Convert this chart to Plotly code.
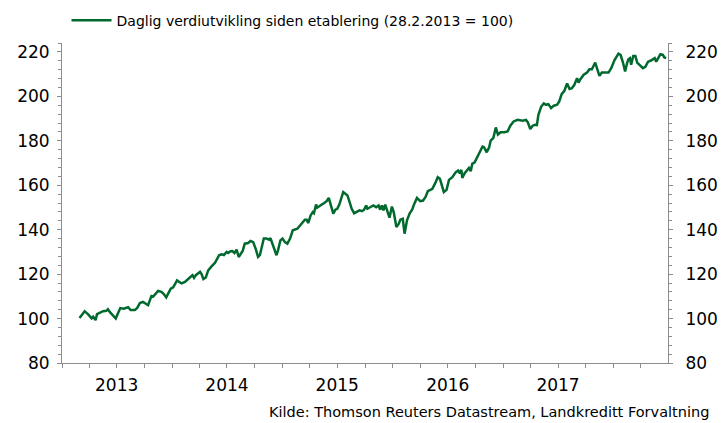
import plotly.graph_objects as go

# --- data ---
dates = [
    "2013-02-28", "2013-03-17", "2013-03-28", "2013-04-09", "2013-04-14", "2013-04-22", "2013-04-27",
    "2013-05-17", "2013-05-28", "2013-06-02", "2013-06-08", "2013-06-19", "2013-06-28", "2013-07-05",
    "2013-07-13", "2013-07-24", "2013-07-31", "2013-08-08", "2013-08-16", "2013-08-30", "2013-09-07",
    "2013-09-16", "2013-09-26", "2013-10-05", "2013-10-13", "2013-10-24", "2013-10-29", "2013-11-06",
    "2013-11-15", "2013-11-26", "2013-12-04", "2013-12-12", "2013-12-20", "2013-12-27", "2014-01-04",
    "2014-01-10", "2014-01-17", "2014-01-24", "2014-02-01", "2014-02-12", "2014-02-23", "2014-03-03",
    "2014-03-09", "2014-03-14", "2014-03-20", "2014-03-28", "2014-04-03", "2014-04-08", "2014-04-14",
    "2014-04-22", "2014-04-30", "2014-05-11", "2014-05-22", "2014-05-30", "2014-06-05", "2014-06-13",
    "2014-06-21", "2014-06-30", "2014-07-05", "2014-07-13", "2014-07-19", "2014-07-26", "2014-08-02",
    "2014-08-09", "2014-08-15", "2014-08-22", "2014-08-29", "2014-09-09", "2014-09-17", "2014-09-26",
    "2014-10-05", "2014-10-12", "2014-10-18", "2014-10-24", "2014-10-31", "2014-11-09", "2014-11-18",
    "2014-11-22", "2014-11-29", "2014-12-06", "2014-12-12", "2014-12-17", "2014-12-25", "2015-01-01",
    "2015-01-09", "2015-01-17", "2015-01-26", "2015-02-04", "2015-02-11", "2015-02-19", "2015-02-28",
    "2015-03-08", "2015-03-16", "2015-03-22", "2015-03-27", "2015-04-04", "2015-04-11", "2015-04-15",
    "2015-04-22", "2015-04-26", "2015-05-03", "2015-05-11", "2015-05-18", "2015-05-27", "2015-06-03",
    "2015-06-10", "2015-06-18", "2015-06-25", "2015-07-01", "2015-07-08", "2015-07-16", "2015-07-21",
    "2015-07-28", "2015-08-04", "2015-08-10", "2015-08-18", "2015-08-26", "2015-09-04", "2015-09-13",
    "2015-09-21", "2015-09-28", "2015-10-05", "2015-10-09", "2015-10-18", "2015-10-29", "2015-11-07",
    "2015-11-15", "2015-11-20", "2015-11-26", "2015-12-01", "2015-12-07", "2015-12-15", "2015-12-21",
    "2015-12-29", "2016-01-04", "2016-01-13", "2016-01-21", "2016-01-26", "2016-02-03", "2016-02-09",
    "2016-02-17", "2016-02-26", "2016-03-05", "2016-03-12", "2016-03-21", "2016-03-30", "2016-04-01",
    "2016-04-10", "2016-04-18", "2016-04-26", "2016-05-11", "2016-05-22", "2016-05-29", "2016-06-05",
    "2016-06-13", "2016-06-18", "2016-06-27", "2016-07-05", "2016-07-16", "2016-07-27", "2016-08-04",
    "2016-08-10", "2016-08-15", "2016-08-18", "2016-08-26", "2016-09-04", "2016-09-09", "2016-09-15",
    "2016-09-20", "2016-09-28", "2016-10-07", "2016-10-16", "2016-10-24", "2016-10-29", "2016-11-07",
    "2016-11-15", "2016-11-20", "2016-11-29", "2016-12-07", "2016-12-14", "2016-12-23", "2017-01-04",
    "2017-01-15", "2017-01-24", "2017-02-04", "2017-02-17", "2017-03-06", "2017-03-17", "2017-03-23",
    "2017-03-31", "2017-04-08", "2017-04-16", "2017-04-22", "2017-04-27", "2017-05-06", "2017-05-15",
    "2017-05-22", "2017-05-30", "2017-06-08", "2017-06-17", "2017-06-28", "2017-07-05", "2017-07-13",
    "2017-07-22", "2017-07-31", "2017-08-08", "2017-08-16", "2017-08-24", "2017-09-02", "2017-09-07",
    "2017-09-13", "2017-09-24", "2017-10-05", "2017-10-13", "2017-10-21", "2017-11-01", "2017-11-07",
    "2017-11-15", "2017-11-23", "2017-12-04", "2017-12-15", "2017-12-24", "2018-01-04", "2018-01-17",
    "2018-01-24", "2018-02-01", "2018-02-08", "2018-02-15", "2018-02-19", "2018-02-24", "2018-02-28",
    "2018-03-07", "2018-03-14", "2018-03-20", "2018-03-28", "2018-04-08", "2018-04-16", "2018-04-25",
    "2018-05-03", "2018-05-11", "2018-05-17", "2018-05-22", "2018-05-28", "2018-06-05", "2018-06-13",
    "2018-06-18", "2018-06-24",
]
values = [
    100.2, 103.3, 102.0, 100.1, 100.8, 99.3, 102.0,
    103.3, 103.5, 104.2, 103.0, 101.5, 100.0, 102.3,
    104.7, 104.4, 104.8, 105.1, 103.8, 103.8, 104.8,
    107.0, 107.5, 106.5, 106.0, 110.1, 109.8, 111.0,
    112.4, 112.0, 111.0, 109.5, 111.6, 113.4, 114.0,
    115.4, 117.2, 116.5, 115.8, 116.5, 117.6, 118.8,
    119.5, 118.3, 119.5, 120.2, 121.0, 120.0, 117.8,
    118.5, 121.7, 123.5, 125.0, 127.0, 128.5, 128.9,
    128.6, 130.0, 129.5, 130.3, 130.4, 129.5, 131.0,
    127.7, 129.2, 130.4, 133.7, 134.0, 134.9, 134.4,
    131.0, 127.7, 128.5, 131.5, 136.0, 136.0, 135.5,
    136.2, 133.7, 131.5, 128.5, 130.7, 135.2, 136.0,
    134.4, 133.7, 136.0, 139.7, 140.0, 140.4, 141.9,
    143.4, 144.5, 144.5, 143.0, 146.4, 147.9, 147.4,
    151.3, 149.9, 150.4, 151.3, 151.9, 152.8, 154.3,
    151.3, 147.2, 149.0, 149.4, 151.3, 155.4, 156.9,
    156.2, 155.4, 152.8, 149.4, 147.4, 147.9, 148.7,
    148.3, 149.0, 150.9, 149.4, 150.1, 150.9, 150.1,
    150.9, 149.0, 150.9, 148.7, 151.3, 147.9, 145.4,
    150.4, 147.9, 141.2, 142.7, 144.5, 144.9, 138.2,
    144.2, 147.4, 149.0, 151.6, 154.3, 153.1, 152.8,
    153.1, 154.6, 157.3, 158.4, 161.4, 163.6, 162.9,
    159.1, 156.9, 157.9, 162.4, 163.6, 165.8, 166.6,
    165.4, 166.9, 163.3, 165.4, 166.9, 167.8, 166.3,
    169.6, 170.3, 172.6, 175.6, 177.4, 177.1, 174.8,
    177.1, 180.1, 181.3, 186.0, 182.8, 183.8, 183.8,
    184.2, 186.8, 188.7, 189.4, 189.0, 189.4, 188.3,
    185.3, 186.8, 187.2, 187.1, 191.7, 195.3, 196.8,
    196.2, 196.5, 194.7, 195.8, 196.2, 197.7, 201.0,
    202.5, 205.8, 203.3, 203.7, 205.2, 208.2, 206.2,
    207.7, 209.7, 210.7, 212.2, 212.2, 215.2, 212.7,
    209.2, 210.7, 210.7, 210.7, 212.7, 216.3, 219.2,
    218.7, 215.2, 211.2, 215.2, 216.7, 217.2, 214.2,
    218.2, 218.2, 215.2, 214.2, 212.7, 213.3, 215.6,
    216.0, 216.7, 217.2, 215.6, 217.2, 219.0, 218.7,
    217.5, 217.2,
]

series_name = "Daglig verdiutvikling siden etablering (28.2.2013 = 100)"
year_label_dates = ["2013-07-01", "2014-07-01", "2015-07-01", "2016-07-01", "2017-07-01"]
year_labels = ["2013", "2014", "2015", "2016", "2017"]
quarter_ticks = [f"{y}-{m:02d}-01" for y in range(2013, 2019) for m in (1, 4, 7, 10)]
source_text = "Kilde: Thomson Reuters Datastream, Landkreditt Forvaltning"

GREEN = "#00692E"
AXIS = "#8C8C8C"
FONT = "DejaVu Sans"

fig = go.Figure()
fig.add_trace(go.Scatter(
    x=dates, y=values, mode="lines", name=series_name,
    line=dict(color=GREEN, width=2.5),
))
# same series bound to the right axis (invisible) so it renders
fig.add_trace(go.Scatter(
    x=dates, y=values, mode="lines", yaxis="y2", showlegend=False,
    hoverinfo="skip", line=dict(color="rgba(0,0,0,0)", width=0),
))

yax_common = dict(
    range=[80, 224], tickmode="linear", tick0=80, dtick=20,
    ticks="outside", ticklen=4, tickcolor=AXIS, tickwidth=1,
    showline=True, linecolor=AXIS, linewidth=1,
    showgrid=False, zeroline=False, automargin=False,
    tickfont=dict(family=FONT, size=17, color="black"),
    minor=dict(tickmode="linear", tick0=80, dtick=4, ticks="outside",
               ticklen=3, tickcolor=AXIS, showgrid=False),
)

fig.update_layout(
    width=723, height=423,
    margin=dict(l=62, r=55, t=43, b=60, autoexpand=False),
    paper_bgcolor="white", plot_bgcolor="white",
    font=dict(family=FONT, color="black"),
    showlegend=True,
    legend=dict(
        orientation="h", xref="container", yref="container",
        x=0.092, y=0.951, xanchor="left", yanchor="middle",
        font=dict(family=FONT, size=14, color="black"),
        bgcolor="rgba(0,0,0,0)", itemwidth=40,
    ),
    xaxis=dict(
        type="date", range=["2013-01-01", "2018-06-30"],
        tickmode="array", tickvals=year_label_dates, ticktext=year_labels,
        ticks="outside", ticklen=4, tickcolor=AXIS,
        showline=True, linecolor=AXIS, linewidth=1,
        showgrid=False, zeroline=False, automargin=False,
        tickfont=dict(family=FONT, size=17, color="black"),
        ticklabelstandoff=3,
        minor=dict(tickmode="array", tickvals=quarter_ticks, ticks="outside",
                   ticklen=4, tickcolor=AXIS, showgrid=False),
    ),
    yaxis=dict(side="left", ticklabelstandoff=4, **yax_common),
    yaxis2=dict(side="right", overlaying="y", ticklabelstandoff=9, **yax_common),
    annotations=[dict(
        text=source_text, xref="paper", yref="paper",
        x=1.071, y=-0.153, xanchor="right", yanchor="middle",
        showarrow=False, font=dict(family=FONT, size=14.5, color="black"),
    )],
)

# remove the browser's default 8px page margin so the 723x423 figure fills the window
fig.write_html(
    "out.html",
    config={"displayModeBar": False},
    post_script="document.body.style.margin='0';",
)
